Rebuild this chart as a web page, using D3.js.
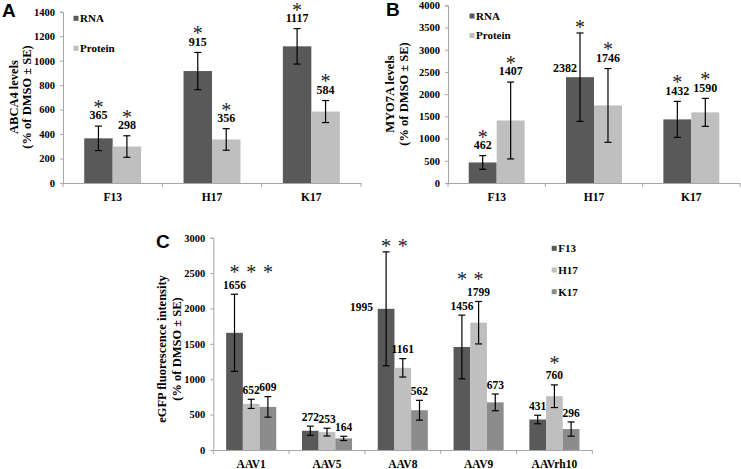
<!DOCTYPE html>
<html>
<head>
<meta charset="utf-8">
<script src="https://cdn.jsdelivr.net/npm/d3@7"></script>
<style>
    body { margin: 0; background: #fff; }
    svg text { font-family: "Liberation Serif", "Times New Roman", serif; font-weight: bold; fill: #000; }
    .panel-letter { font-family: "Liberation Sans", Arial, sans-serif !important; font-size: 19px; }
</style>
</head>
<body>
<svg id="chart" width="741" height="469"></svg>
<script>
// Panel A: ABCA4
const abcaGroups      = ["F13", "H17", "K17"];
const abcaSeries      = ["RNA", "Protein"];
const abcaRna         = [365, 915, 1117];
const abcaRnaErr      = [100, 152, 145];
const abcaProtein     = [298, 356, 584];
const abcaProteinErr  = [88, 88, 90];
const abcaRnaSig      = [true, true, true];
const abcaProteinSig  = [true, true, true];
const abcaTicks       = [0, 200, 400, 600, 800, 1000, 1200, 1400];

// Panel B: MYO7A
const myoGroups       = ["F13", "H17", "K17"];
const myoSeries       = ["RNA", "Protein"];
const myoRna          = [462, 2382, 1432];
const myoRnaErr       = [154, 995, 405];
const myoProtein      = [1407, 1746, 1590];
const myoProteinErr   = [865, 830, 315];
const myoRnaSig       = [true, true, true];
const myoProteinSig   = [true, true, true];
const myoTicks        = [0, 500, 1000, 1500, 2000, 2500, 3000, 3500, 4000];

// Panel C: eGFP per AAV serotype
const aavGroups       = ["AAV1", "AAV5", "AAV8", "AAV9", "AAVrh10"];
const aavSeries       = ["F13", "H17", "K17"];
const aavF13          = [1656, 272, 1995, 1456, 431];
const aavF13Err       = [545, 65, 805, 450, 60];
const aavH17          = [652, 253, 1161, 1799, 760];
const aavH17Err       = [65, 55, 130, 300, 160];
const aavK17          = [609, 164, 562, 673, 296];
const aavK17Err       = [145, 30, 140, 118, 100];
const aavF13Sig       = [true, false, true, true, false];
const aavH17Sig       = [true, false, true, true, true];
const aavK17Sig       = [true, false, false, false, false];
const aavTicks        = [0, 500, 1000, 1500, 2000, 2500, 3000];

const DARK   = "#595959";
const LIGHT  = "#bfbfbf";
const MEDIUM = "#8c8c8c";
const AXIS   = "#a6a6a6";

/**
 * Grouped bar panel with error bars, value labels and asterisks.
 */
class BarPanel
{
    constructor(svg, opts)
    {
        this.svg  = svg;
        this.opts = opts;
    }

    draw()
    {
        let o = this.opts;
        let g = this.svg.append("g");

        let x0 = d3.scaleBand().domain(o.groups).range([o.left, o.right]);
        let x1 = d3.scaleBand().domain(o.series).range([0, x0.bandwidth()])
            .paddingInner(0).paddingOuter(o.barPad);
        let y  = d3.scaleLinear().domain([0, o.max]).range([o.bottom, o.top]);
        let color = d3.scaleOrdinal().domain(o.series).range(o.colors);

        // y axis
        let yAxis = g.append("g")
            .attr("transform", `translate(${o.left},0)`)
            .call(d3.axisLeft(y).tickValues(o.ticks).tickSize(3).tickPadding(5).tickFormat(d3.format("d")));
        yAxis.selectAll("path, line").attr("stroke", AXIS);
        yAxis.selectAll("text").style("font-size", "10.5px");

        // x axis with ticks at band boundaries
        let xa = g.append("g");
        xa.append("line")
            .attr("x1", o.left).attr("x2", o.right)
            .attr("y1", o.bottom + 0.5).attr("y2", o.bottom + 0.5)
            .attr("stroke", AXIS);
        xa.selectAll("line.tk")
            .data(o.groups.map(d => x0(d)).concat([o.right]))
            .enter().append("line")
            .attr("class", "tk")
            .attr("x1", d => d).attr("x2", d => d)
            .attr("y1", o.bottom).attr("y2", o.bottom + 4)
            .attr("stroke", AXIS);
        xa.selectAll("text")
            .data(o.groups)
            .enter().append("text")
            .attr("x", d => x0(d) + x0.bandwidth() / 2)
            .attr("y", o.bottom + 14)
            .attr("dy", "0.35em")
            .attr("text-anchor", "middle")
            .style("font-size", "11.5px")
            .text(d => d);

        // bar records
        let bars = [];
        o.groups.forEach((grp, gi) => {
            o.series.forEach((s, si) => {
                let side = (o.sideLabels || []).find(e => e[0] === gi && e[1] === si);
                bars.push({
                    gi: gi, si: si, group: grp, series: s,
                    value: o.values[si][gi], err: o.errors[si][gi], sig: o.sig[si][gi],
                    x: x0(grp) + x1(s), w: x1.bandwidth(), side: side
                });
            });
        });

        g.selectAll("rect.bar")
            .data(bars)
            .enter().append("rect")
            .attr("class", "bar")
            .attr("x", d => d.x)
            .attr("width", d => d.w)
            .attr("y", d => y(d.value))
            .attr("height", d => y(0) - y(d.value))
            .attr("fill", d => color(d.series));

        // error bars
        let eb = g.selectAll("g.err").data(bars).enter().append("g").attr("class", "err");
        eb.append("line")
            .attr("x1", d => d.x + d.w / 2).attr("x2", d => d.x + d.w / 2)
            .attr("y1", d => y(d.value + d.err)).attr("y2", d => y(d.value - d.err));
        eb.append("line")
            .attr("x1", d => d.x + d.w / 2 - 3.5).attr("x2", d => d.x + d.w / 2 + 3.5)
            .attr("y1", d => y(d.value + d.err)).attr("y2", d => y(d.value + d.err));
        eb.append("line")
            .attr("x1", d => d.x + d.w / 2 - 3.5).attr("x2", d => d.x + d.w / 2 + 3.5)
            .attr("y1", d => y(d.value - d.err)).attr("y2", d => y(d.value - d.err));
        eb.selectAll("line").attr("stroke", "#000").attr("stroke-width", 1.2);

        // value labels
        bars.forEach(d => {
            let cx = d.x + d.w / 2;
            let top = y(d.value + d.err);
            if (d.side) {
                d.lx = cx + d.side[2];
                d.ly = y(d.value) + d.side[3];
                d.anchor = "end";
                d.starAnchor = top - 11;
            } else {
                d.lx = cx;
                d.ly = top - o.labelGap;
                d.anchor = "middle";
                d.starAnchor = d.ly - o.starGap;
            }
        });

        g.selectAll("text.val")
            .data(bars)
            .enter().append("text")
            .attr("class", "val")
            .attr("x", d => d.lx)
            .attr("y", d => d.ly)
            .attr("dy", "0.35em")
            .attr("text-anchor", d => d.anchor)
            .style("font-size", o.valueSize)
            .text(d => d.value);

        // asterisks: per bar, or on one row per group
        if (o.starRow) {
            o.groups.forEach((grp, gi) => {
                let inGroup = bars.filter(d => d.gi === gi);
                let rowY = d3.min(inGroup, d => d.side ? d.starAnchor : d.ly - o.starGap);
                inGroup.forEach(d => { d.sy = rowY; });
            });
        } else {
            bars.forEach(d => { d.sy = d.starAnchor; });
        }

        g.selectAll("text.star")
            .data(bars.filter(d => d.sig))
            .enter().append("text")
            .attr("class", "star")
            .attr("x", d => d.x + d.w / 2)
            .attr("y", d => d.sy)
            .attr("dy", "0.62em")
            .attr("text-anchor", "middle")
            .style("font-size", "20px")
            .style("font-weight", "normal")
            .style("fill", "#222")
            .text("*");

        // legend
        let lg = g.selectAll("g.legend")
            .data(o.series)
            .enter().append("g")
            .attr("class", "legend")
            .attr("transform", (d, i) => `translate(${o.legendX},${o.legendY + i * o.legendStep})`);
        lg.append("rect")
            .attr("x", 0).attr("y", -2.5)
            .attr("width", 5).attr("height", 5)
            .attr("fill", d => color(d));
        lg.append("text")
            .attr("x", 6.5).attr("y", 0)
            .attr("dy", "0.35em")
            .style("font-size", "11px")
            .text(d => d);

        // y title, two lines
        let mid = o.titleY;
        o.title.forEach((line, i) => {
            g.append("text")
                .attr("transform", `translate(${o.titleX[i]},${mid}) rotate(-90)`)
                .attr("dy", "0.35em")
                .attr("text-anchor", "middle")
                .style("font-size", "12.5px")
                .text(line);
        });

        // panel letter
        g.append("text")
            .attr("class", "panel-letter")
            .attr("x", o.letter[1])
            .attr("y", o.letter[2])
            .text(o.letter[0]);
    }
}

let svg = d3.select("#chart");

new BarPanel(svg, {
    groups: abcaGroups, series: abcaSeries,
    values: [abcaRna, abcaProtein], errors: [abcaRnaErr, abcaProteinErr], sig: [abcaRnaSig, abcaProteinSig],
    colors: [DARK, LIGHT], ticks: abcaTicks, max: 1400,
    left: 63, right: 361, top: 11.7, bottom: 183, barPad: 0.745,
    labelGap: 11, starGap: 13.5, starRow: false, valueSize: "12px",
    legendX: 73.5, legendY: 18.3, legendStep: 30,
    title: ["ABCA4 levels", "(% of DMSO \u00b1 SE)"], titleX: [14, 27], titleY: 97,
    letter: ["A", 2, 17]
}).draw();

new BarPanel(svg, {
    groups: myoGroups, series: myoSeries,
    values: [myoRna, myoProtein], errors: [myoRnaErr, myoProteinErr], sig: [myoRnaSig, myoProteinSig],
    colors: [DARK, LIGHT], ticks: myoTicks, max: 4000,
    left: 448, right: 740, top: 5.3, bottom: 183, barPad: 0.74,
    labelGap: 11, starGap: 13.5, starRow: false, valueSize: "12px",
    sideLabels: [[1, 0, -3, -9]],
    legendX: 469.5, legendY: 16, legendStep: 19.5,
    title: ["MYO7A levels", "(% of DMSO \u00b1 SE)"], titleX: [390, 404], titleY: 94,
    letter: ["B", 386, 16]
}).draw();

new BarPanel(svg, {
    groups: aavGroups, series: aavSeries,
    values: [aavF13, aavH17, aavK17], errors: [aavF13Err, aavH17Err, aavK17Err], sig: [aavF13Sig, aavH17Sig, aavK17Sig],
    colors: [DARK, LIGHT, MEDIUM], ticks: aavTicks, max: 3000,
    left: 213.3, right: 592.3, top: 237.7, bottom: 450, barPad: 0.77,
    labelGap: 9.5, starGap: 18, starRow: true, valueSize: "11.5px",
    sideLabels: [[2, 0, -13, -2]],
    legendX: 551.7, legendY: 248.3, legendStep: 21.7,
    title: ["eGFP fluorescence intensity", "(% of DMSO \u00b1 SE)"], titleX: [162, 177], titleY: 349,
    letter: ["C", 156, 248]
}).draw();
</script>
</body>
</html>
